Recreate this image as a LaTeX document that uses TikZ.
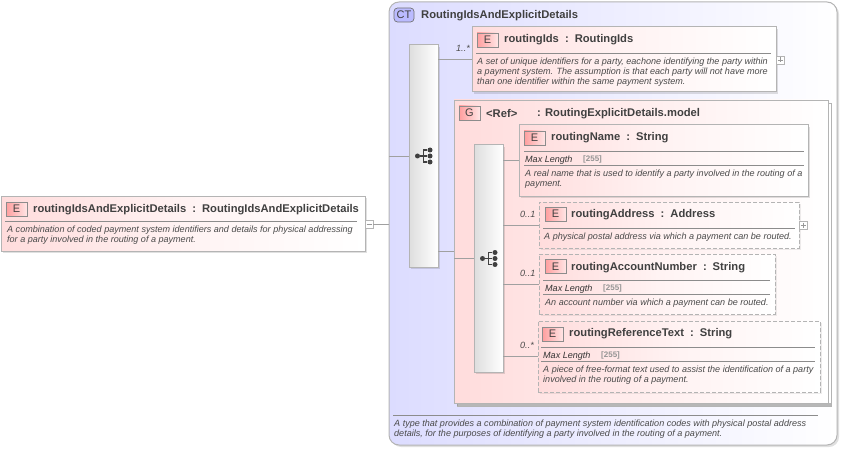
\documentclass[tikz,border=0pt]{standalone}
\usepackage{fontspec}
\setmainfont{Liberation Sans}
\usetikzlibrary{shadows,calc}
\definecolor{txt}{HTML}{404040}
\definecolor{ital}{HTML}{4A4A4A}
\definecolor{bord}{HTML}{B4B4B4}
\definecolor{pinkbg}{HTML}{FFDCDC}
\definecolor{lav}{HTML}{DCDCFF}
\definecolor{conn}{HTML}{A0A0A0}
\tikzset{
  x=1pt,y=-1pt,
  base/.style={anchor=north west,inner sep=0pt,outer sep=0pt},
  elbox/.style={base,draw=bord,line width=1pt,left color=pinkbg,right color=white,middle color=pinkbg!35!white,
    drop shadow={shadow xshift=2pt,shadow yshift=-2pt,fill=black,opacity=.12}},
  optbox/.style={base,draw=bord,line width=1pt,dash pattern=on 4pt off 2pt,left color=pinkbg,right color=white,middle color=pinkbg!35!white,
    drop shadow={shadow xshift=2pt,shadow yshift=-2pt,fill=black,opacity=.07}},
  groupbox/.style={base,draw=bord,line width=.8pt,left color=pinkbg,right color=white,middle color=pinkbg!50!white},
  groupback/.style={base,draw=bord,line width=.8pt,fill=white},
  ctbox/.style={base,draw=bord,line width=1pt,rounded corners=10pt,left color=lav,right color=white,
    drop shadow={shadow xshift=2pt,shadow yshift=-2pt,fill=black,opacity=.12}},
  seqbox/.style={base,draw=bord,line width=1pt,left color=black!13,right color=white,
    drop shadow={shadow xshift=2pt,shadow yshift=-2pt,fill=black,opacity=.12}},
  iconE/.style={base,draw=black!45,line width=.7pt,left color=red!38!white,right color=red!10!white,
    minimum width=21pt,minimum height=14pt,text=txt,font=\fontsize{11}{11}\selectfont,anchor=west},
  iconCT/.style={base,draw=black!55,line width=.7pt,rounded corners=3.5pt,fill=lav!85!blue,
    minimum width=20pt,minimum height=14pt,text=txt,font=\fontsize{11}{11}\selectfont,anchor=west},
  ttl/.style={inner sep=0pt,anchor=west,yshift=-1.2pt,font=\bfseries\fontsize{11.2}{13}\selectfont,text=txt},
  desc/.style={inner sep=0pt,anchor=west,yshift=-.8pt,align=left,font=\itshape\fontsize{9.05}{10}\selectfont,text=ital},
  mlen/.style={inner sep=0pt,anchor=west,yshift=-.8pt,font=\itshape\fontsize{9.05}{10}\selectfont,text=black!80},
  mval/.style={inner sep=0pt,anchor=west,yshift=-.8pt,font=\bfseries\fontsize{8}{9}\selectfont,text=black!42},
  card/.style={inner sep=0pt,anchor=west,yshift=-.8pt,font=\itshape\fontsize{9.05}{10}\selectfont,text=ital},
  rule/.style={draw=black!45,line width=.8pt},
  link/.style={draw=conn,line width=.8pt},
  signbox/.style={base,draw=bord,line width=.7pt,fill=white,minimum width=8pt,minimum height=8pt,anchor=west},
  sign/.style={draw=black!40,line width=.6pt},
  seqdot/.style={circle,fill=black!75,inner sep=0pt,minimum size=5pt},
  seqline/.style={draw=black!75,line width=1.1pt}
}
\newcommand{\tsep}{\hspace{3pt} : \,}
\begin{document}
\begin{tikzpicture}
\useasboundingbox (0,0) rectangle (842,449);
% complex type frame
\node[ctbox,minimum width=448pt,minimum height=443pt] (ct) at (389,2) {};
\node[iconCT] (cticon) at (394,15) {CT};
\node[ttl] (cttitle) at (421,14) {RoutingIdsAndExplicitDetails};
% left element
\node[elbox,minimum width=364pt,minimum height=55pt] (root) at (1,196) {};
\node[iconE] (rooticon) at (6,209) {E};
\node[ttl] (roottitle) at (33,208) {routingIdsAndExplicitDetails\tsep RoutingIdsAndExplicitDetails};
\coordinate (rootruleA) at (5,221); \coordinate (rootruleB) at (357,221);
\draw[rule] (rootruleA) -- (rootruleB);
\node[desc] (rootdesc) at (7,234) {A combination of coded payment system identifiers and details for physical addressing\\for a party involved in the routing of a payment.};
\node[signbox] (rootsign) at (365,224) {};
\draw[sign] ($(rootsign.center)+(-2.5,0)$) -- ($(rootsign.center)+(2.5,0)$);
\draw[link] (rootsign.east) -- (rootsign.east -| ct.west);
% first sequence
\node[seqbox,minimum width=29pt,minimum height=222pt] (seqa) at (409,45) {};
\draw[link] (seqa.west -| ct.west) -- (seqa.west);
\node[seqdot] (seqaroot) at (417.5,156) {};
\node[seqdot] (seqaA) at (430,150) {};
\node[seqdot] (seqaB) at (430,156) {};
\node[seqdot] (seqaC) at (430,162) {};
\draw[seqline] (seqaroot) -- (seqaB) (seqaA) -| ($(seqaroot)!.5!(seqaB)$) |- (seqaC);
% routingIds
\node[elbox,minimum width=304pt,minimum height=65pt] (ids) at (472,27) {};
\node[iconE] (idsicon) at (477,40) {E};
\node[ttl] (idstitle) at (504,38) {routingIds\tsep RoutingIds};
\coordinate (idsruleA) at (476,53); \coordinate (idsruleB) at (771,53);
\draw[rule] (idsruleA) -- (idsruleB);
\node[desc] (idsdesc) at (477,71) {A set of unique identifiers for a party, eachone identifying the party within\\a payment system. The assumption is that each party will not have more\\than one identifier within the same payment system.};
\node[signbox] (idssign) at (776,60) {};
\draw[sign] ($(idssign.center)+(-2.5,0)$) -- ($(idssign.center)+(2.5,0)$) ($(idssign.center)+(0,-2.5)$) -- ($(idssign.center)+(0,2.5)$);
\draw[link] (seqa.east |- ids.west) -- (ids.west);
\node[card] (idscard) at (456,48) {1..*};
% group
\node[groupback,minimum width=374pt,minimum height=303pt] (groupb) at (457,103) {};
\coordinate (gbA) at (457,404.5); \coordinate (gbB) at (831,404.5);
\draw[draw=black!40,line width=3pt,opacity=.7] (gbA) -- (gbB);
\node[groupbox,minimum width=374pt,minimum height=303pt] (group) at (454,100) {};
\node[iconE,minimum width=21pt] (groupicon) at (459,113) {G};
\node[ttl] (groupref) at (486,112) {<Ref>};
\node[ttl] (grouptitle) at (537,112) {: RoutingExplicitDetails.model};
\draw[link] (seqa.east |- group.west) -- (group.west);
% second sequence
\node[seqbox,minimum width=29pt,minimum height=227pt] (seqb) at (474,145) {};
\draw[link] (seqb.west -| group.west) -- (seqb.west);
\node[seqdot] (seqbroot) at (482.5,258.5) {};
\node[seqdot] (seqbA) at (495,252.5) {};
\node[seqdot] (seqbB) at (495,258.5) {};
\node[seqdot] (seqbC) at (495,264.5) {};
\draw[seqline] (seqbroot) -- (seqbB) (seqbA) -| ($(seqbroot)!.5!(seqbB)$) |- (seqbC);
% routingName
\node[elbox,minimum width=289pt,minimum height=71pt] (name) at (519,125) {};
\node[iconE] (nameicon) at (524,138) {E};
\node[ttl] (nametitle) at (551,136) {routingName\tsep String};
\coordinate (nameruleA) at (524,151); \coordinate (nameruleB) at (804,151);
\coordinate (nameruleC) at (524,165); \coordinate (nameruleD) at (804,165);
\draw[rule] (nameruleA) -- (nameruleB);
\draw[rule] (nameruleC) -- (nameruleD);
\node[mlen] (namemax) at (525,159) {Max Length};
\node[mval] (nameval) at (583,158.5) {[255]};
\node[desc] (namedesc) at (525,178) {A real name that is used to identify a party involved in the routing of a\\payment.};
\draw[link] (seqb.east |- name.west) -- (name.west);
% routingAddress
\node[optbox,minimum width=260pt,minimum height=46pt] (addr) at (539,202) {};
\node[iconE] (addricon) at (545,214) {E};
\node[ttl] (addrtitle) at (571,213) {routingAddress\tsep Address};
\coordinate (addrruleA) at (543,228); \coordinate (addrruleB) at (795,228);
\draw[rule] (addrruleA) -- (addrruleB);
\node[desc] (addrdesc) at (544,236) {A physical postal address via which a payment can be routed.};
\node[signbox] (addrsign) at (799,225) {};
\draw[sign] ($(addrsign.center)+(-2.5,0)$) -- ($(addrsign.center)+(2.5,0)$) ($(addrsign.center)+(0,-2.5)$) -- ($(addrsign.center)+(0,2.5)$);
\draw[link] (seqb.east |- addr.west) -- (addr.west);
\node[card] (addrcard) at (520,214) {0..1};
% routingAccountNumber
\node[optbox,minimum width=236pt,minimum height=60pt] (acct) at (539,254) {};
\node[iconE] (accticon) at (545,266.5) {E};
\node[ttl] (accttitle) at (571,266) {routingAccountNumber\tsep String};
\coordinate (acctruleA) at (543,280); \coordinate (acctruleB) at (770,280);
\coordinate (acctruleC) at (543,294); \coordinate (acctruleD) at (770,294);
\draw[rule] (acctruleA) -- (acctruleB);
\draw[rule] (acctruleC) -- (acctruleD);
\node[mlen] (acctmax) at (545,288) {Max Length};
\node[mval] (acctval) at (603,287.5) {[255]};
\node[desc] (acctdesc) at (545,302) {An account number via which a payment can be routed.};
\draw[link] (seqb.east |- acct.west) -- (acct.west);
\node[card] (acctcard) at (520,273) {0..1};
% routingReferenceText
\node[optbox,minimum width=282pt,minimum height=71pt] (refn) at (538,321) {};
\node[iconE] (reficon) at (542,334) {E};
\node[ttl] (reftitle) at (569,332) {routingReferenceText\tsep String};
\coordinate (refruleA) at (541,347); \coordinate (refruleB) at (815,347);
\coordinate (refruleC) at (541,361); \coordinate (refruleD) at (815,361);
\draw[rule] (refruleA) -- (refruleB);
\draw[rule] (refruleC) -- (refruleD);
\node[mlen] (refmax) at (543,355) {Max Length};
\node[mval] (refval) at (601,354.5) {[255]};
\node[desc] (refdesc) at (543,374) {A piece of free-format text used to assist the identification of a party\\involved in the routing of a payment.};
\draw[link] (seqb.east |- refn.west) -- (refn.west);
\node[card] (refcard) at (520,345) {0..*};
% bottom note
\coordinate (ctruleA) at (393,415); \coordinate (ctruleB) at (818,415);
\draw[rule] (ctruleA) -- (ctruleB);
\node[desc] (ctdesc) at (394,428) {A type that provides a combination of payment system identification codes with physical postal address\\details, for the purposes of identifying a party involved in the routing of a payment.};
\end{tikzpicture}
\end{document}
